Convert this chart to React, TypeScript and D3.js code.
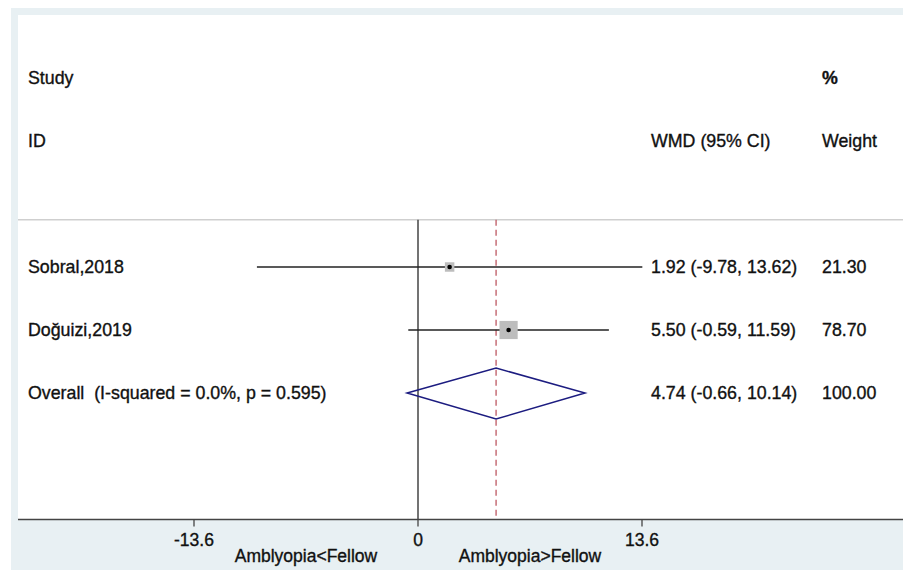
import * as d3 from "d3";

const W = 903;
const H = 570;

// study rows
const studies = ["Sobral,2018", "Doğuizi,2019"];
const wmd = [1.92, 5.5];
const ciLo = [-9.78, -0.59];
const ciHi = [13.62, 11.59];
const weights = [21.3, 78.7];
const wmdLabels = ["1.92 (-9.78, 13.62)", "5.50 (-0.59, 11.59)"];
const weightLabels = ["21.30", "78.70"];

// pooled estimate
const overallLabel = "Overall  (I-squared = 0.0%, p = 0.595)";
const overall = { est: 4.74, lo: -0.66, hi: 10.14 };
const overallText = "4.74 (-0.66, 10.14)";
const overallWeight = "100.00";

const xTicks = [-13.6, 0, 13.6];
const xTickLabels = ["-13.6", "0", "13.6"];
const sideLabels = [
  { v: -6.8, text: "Amblyopia<Fellow" },
  { v: 6.8, text: "Amblyopia>Fellow" },
];

const FONT = "'Liberation Sans', Arial, sans-serif";
const BG = "#e8f0f3";

export default function App() {
  const x = d3.scaleLinear().domain([0, 13.6]).range([418, 642]);
  // row index -> y (0 = "Study", 1 = "ID", 3.. = rows)
  const y = d3.scaleLinear().domain([0, 5]).range([78, 393]);
  const side = d3.scaleSqrt().domain([0, 100]).range([0, 20.5]);

  const left = 18;
  const top = 15;
  const axisY = y(7) + 0.5;
  const sepY = y(2.25);
  const colText = 28;
  const colWmd = 651;
  const colW = 822;

  const dTop = y(5) - 25;
  const dBot = y(5) + 26;
  const diamond = d3.line()([
    [x(overall.lo), y(5)],
    [x(overall.est), dTop],
    [x(overall.hi), y(5)],
    [x(overall.est), dBot],
  ]) + "Z";

  // slight stroke to mimic the heavier raster text of the original
  const txt = {
    fontFamily: FONT,
    fontSize: 17.8,
    fill: "#111",
    stroke: "#111",
    strokeWidth: 0.35,
  };

  return (
    <div style={{ position: "absolute", left: 0, top: 0 }}>
      <svg width={W} height={H} style={{ display: "block", background: "#fff" }}>
        <rect x={11} y={8} width={W - 11} height={H - 8} fill={BG} />
        <rect x={left} y={top} width={W - left} height={axisY - top} fill="#fff" />

        {/* headers */}
        <text x={colText} y={y(0) + 6} {...txt}>Study</text>
        <text x={colText} y={y(1) + 6} {...txt}>ID</text>
        <text x={colWmd} y={y(1) + 6} {...txt}>WMD (95% CI)</text>
        <text x={colW} y={y(0) + 6} {...txt} fontWeight={700}>%</text>
        <text x={colW} y={y(1) + 6} {...txt}>Weight</text>

        <line x1={left} x2={W} y1={sepY} y2={sepY} stroke="#cfcfcf" strokeWidth={1.5} />

        {/* null line and pooled line */}
        <line x1={x(0)} x2={x(0)} y1={sepY} y2={axisY} stroke="#444" strokeWidth={1.5} />
        <line
          x1={x(overall.est)}
          x2={x(overall.est)}
          y1={sepY}
          y2={axisY}
          stroke="#b84a55"
          strokeWidth={1.2}
          strokeDasharray="6 4"
        />

        {studies.map((s, i) => {
          const cy = y(3 + i);
          const sz = side(weights[i]);
          return (
            <g key={s}>
              <line x1={x(ciLo[i])} x2={x(ciHi[i])} y1={cy} y2={cy} stroke="#222" strokeWidth={1.3} />
              <rect x={x(wmd[i]) - sz / 2} y={cy - sz / 2} width={sz} height={sz} fill="#bdbdbd" />
              <circle cx={x(wmd[i])} cy={cy} r={2.3} fill="#000" />
              <text x={colText} y={cy + 6} {...txt}>{s}</text>
              <text x={colWmd} y={cy + 6} {...txt}>{wmdLabels[i]}</text>
              <text x={colW} y={cy + 6} {...txt}>{weightLabels[i]}</text>
            </g>
          );
        })}

        <path d={diamond} fill="none" stroke="#1c1c80" strokeWidth={1.5} />
        <text x={colText} y={y(5) + 6} {...txt} style={{ whiteSpace: "pre" }}>{overallLabel}</text>
        <text x={colWmd} y={y(5) + 6} {...txt}>{overallText}</text>
        <text x={colW} y={y(5) + 6} {...txt}>{overallWeight}</text>

        {/* axis */}
        <line x1={left} x2={W} y1={axisY} y2={axisY} stroke="#444" strokeWidth={1.6} />
        {xTicks.map((t, i) => (
          <g key={t}>
            <line x1={x(t)} x2={x(t)} y1={axisY} y2={axisY + 7} stroke="#444" strokeWidth={1.3} />
            <text x={x(t)} y={axisY + 26} textAnchor="middle" {...txt} fontSize={17.5}>
              {xTickLabels[i]}
            </text>
          </g>
        ))}
        {sideLabels.map((l) => (
          <text key={l.text} x={x(l.v)} y={axisY + 42} textAnchor="middle" {...txt} fontSize={17.5}>
            {l.text}
          </text>
        ))}
      </svg>
    </div>
  );
}
